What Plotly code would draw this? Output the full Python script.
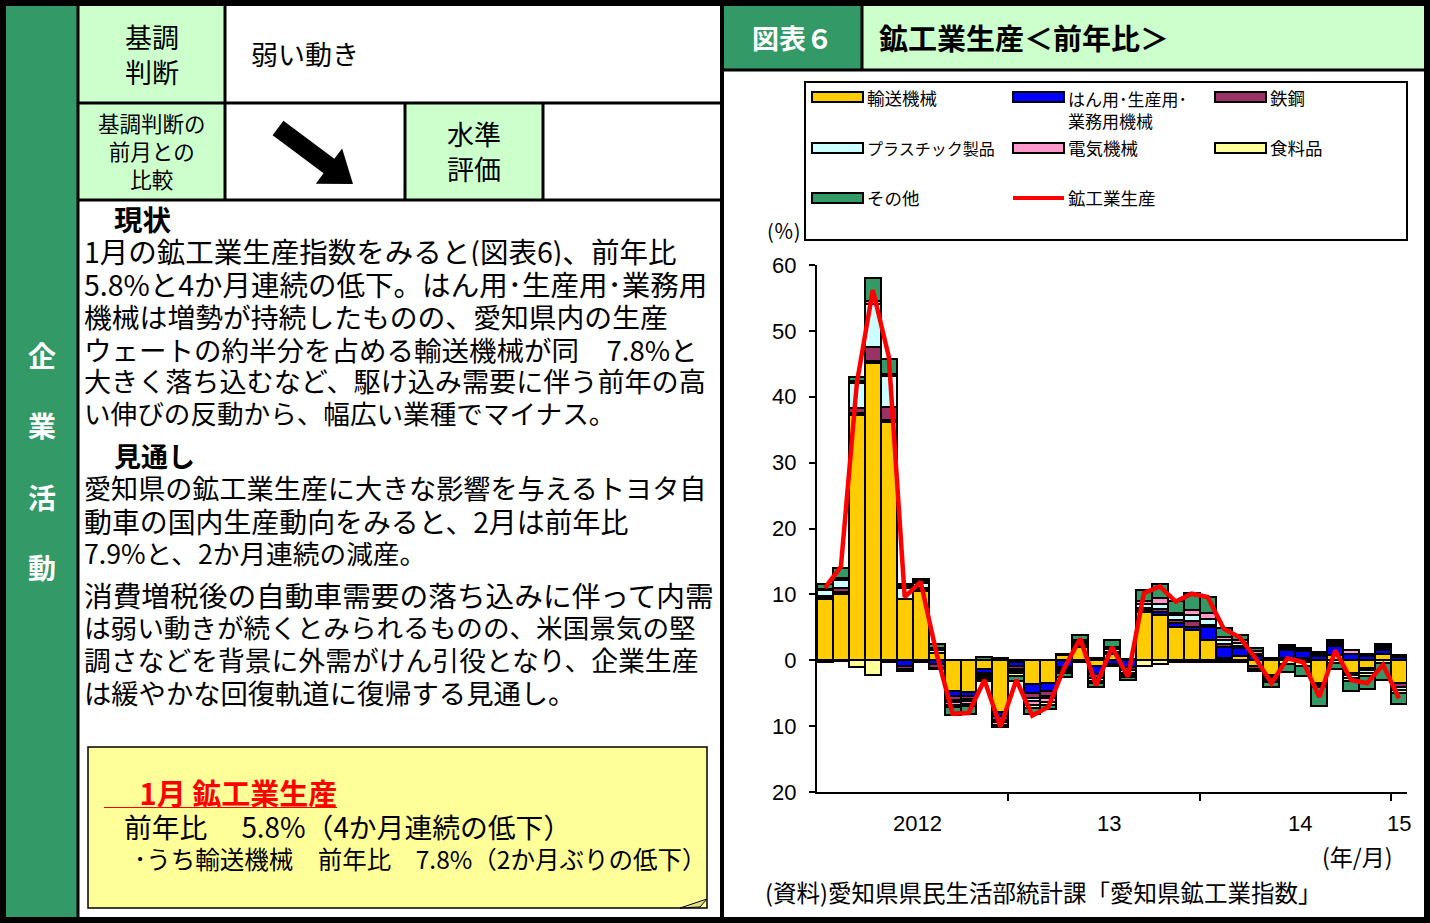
import plotly.graph_objects as go
import math

W, H = 1430, 923
def X(x): return x / W
def Y(y): return 1 - y / H

# ---------------- data ----------------
months = list(range(37))  # 2012/1 .. 2015/1
transport = [9.3, 10.1, 37.2, 45.1, 36.2, 9.3, 10.5, 1.1, -4.6, -4.8, -1.3, -7.9, -0.3, -3.6, -3.4, 0.8,
             2.0, -0.9, 1.0, 0.2, 7.3, 6.8, 5.1, 4.6, 3.0, 0.4, 0.6, -0.9, -2.3, 0.4, 0.3, -3.4, 0.8,
             -2.0, -1.1, 1.0, -3.5]
general_mach = [0.2, 0.3, 0.3, 0.4, 0.3, -0.8, 0.3, -0.6, -0.8, -0.6, -0.6, -0.5, -0.5, -1.3, -1.3, -1.0,
                0.3, -1.2, -0.5, -1.0, 0.4, 0.5, 0.6, 0.5, 2.0, 1.6, 1.2, 0.6, 0.3, 1.1, 1.1, 0.7, 1.4,
                1.0, 0.6, 0.5, 0.5]
steel = [0.3, 0.5, 0.8, 2.0, 2.0, -0.6, 0.2, -0.5, -0.6, -0.5, -0.4, -0.6, -0.5, -0.8, -0.7, -0.3,
         0.2, -0.6, 0.3, -0.5, 0.3, 0.5, 0.4, 0.8, 0.4, 0.4, 0.4, -0.4, -0.3, 0.3, -0.3, -0.3, 0.3,
         -0.3, -0.4, 0.3, -0.5]
plastic = [0.8, 1.3, 3.8, 6.6, 4.7, 1.6, 0.8, 0.5, -0.3, -0.3, -0.3, -0.4, -0.4, -0.5, -0.4, -0.4,
           0.3, -0.4, 0.4, -0.4, 0.5, 0.8, 0.7, 0.9, 0.9, 0.6, 0.4, 0.4, -0.3, 0.3, 0.3, 0.3, 0.3,
           -0.4, -0.4, 0.3, -0.5]
electric = [0.2, 0.3, 0.3, 0.5, 0.3, 0.3, 0.3, 0.3, -0.5, -0.5, -0.3, -0.4, -0.3, -0.6, -0.5, 0.2,
            0.2, 0.3, 0.3, -0.3, 0.5, 0.8, 0.4, 0.8, 0.9, 0.6, 0.4, 0.4, -0.2, 0.2, 0.2, 0.3, 0.3,
            0.5, 0.4, 0.3, 0.3]
food = [-0.2, -0.1, -1.0, -2.2, -0.3, -0.3, -0.2, -0.3, -0.3, -0.3, -0.3, -0.4, -0.4, -0.5, -0.5, -0.3,
        -0.2, -0.4, -0.4, -0.4, -0.8, -0.5, -0.3, -0.3, -0.2, -0.2, -0.2, -0.4, -0.2, -0.5, -0.6, -0.3,
        -0.4, -0.5, -0.5, -0.4, -0.5]
others = [0.8, 1.5, 0.6, 3.5, 2.3, 0.3, 0.3, 0.6, -1.2, -1.2, 0.5, 0.3, -0.8, -0.9, -0.6, -0.5,
          0.8, -0.6, 1.1, -0.4, 1.6, 2.1, 1.8, 2.6, 2.4, 1.3, 0.8, 0.4, -0.7, -1.3, -1.5, -3.0, -0.9,
          -1.5, -2.0, -2.6, -1.6]
total = [11.0, 14.2, 42.1, 56.2, 46.1, 9.6, 11.9, 1.0, -8.1, -8.0, -3.0, -10.1, -3.0, -8.4, -7.1, -1.2,
         3.3, -3.8, 2.0, -2.5, 10.2, 11.2, 8.9, 10.1, 9.6, 4.8, 3.5, 0.3, -3.5, 0.3, -0.3, -5.6, 1.5,
         -3.0, -3.5, -0.7, -5.8]

series_names = ["輸送機械", "はん用･生産用･<br>業務用機械", "鉄鋼", "プラスチック製品", "電気機械", "食料品", "その他"]
series_values = [transport, general_mach, steel, plastic, electric, food, others]
series_colors = ["#FFCC00", "#0000FF", "#993366", "#CCFFFF", "#FF99CC", "#FFFF99", "#339966"]
line_name = "鉱工業生産"

y_tickvals = [-20, -10, 0, 10, 20, 30, 40, 50, 60]
y_ticktext = ["20", "10", "0", "10", "20", "30", "40", "50", "60"]
year_labels = ["2012", "13", "14", "15"]
year_label_pos = [5.8, 17.8, 29.8, 36]
year_bounds = [11.5, 23.5, 35.5]

JP = "Noto Sans CJK JP"
LAT = "Liberation Sans"

fig = go.Figure()
for name, vals, col in zip(series_names, series_values, series_colors):
    fig.add_trace(go.Bar(x=months, y=vals, name=name, marker=dict(color=col, line=dict(color="black", width=2)),
                         showlegend=False))
fig.add_trace(go.Scatter(x=months, y=total, mode="lines", name=line_name,
                         line=dict(color="#FF0000", width=4.5), showlegend=False))

fig.update_layout(
    width=W, height=H, autosize=False, showlegend=False,
    margin=dict(l=0, r=0, t=0, b=0, pad=0, autoexpand=False),
    paper_bgcolor="white", plot_bgcolor="rgba(0,0,0,0)",
    barmode="relative", bargap=0,
    xaxis=dict(domain=[X(817), X(1407)], range=[-0.5, 36.5], showgrid=False, zeroline=False, automargin=False,
               showline=True, linecolor="black", linewidth=2, ticks="outside", ticklen=7,
               tickwidth=2, tickcolor="black", tickvals=year_bounds, showticklabels=False),
    yaxis=dict(domain=[Y(792), Y(265)], range=[-20, 60], showgrid=False, zeroline=False, automargin=False,
               showline=True, linecolor="black", linewidth=2, ticks="outside", ticklen=6,
               tickwidth=2, tickcolor="black", tickvals=y_tickvals, ticktext=y_ticktext,
               ticklabelstandoff=8,
               tickfont=dict(family=LAT, size=22, color="black")),
)

shapes = []
def rect(x0, y0, x1, y1, fill, lw=0, lc="black", layer="below"):
    shapes.append(dict(type="rect", xref="paper", yref="paper", x0=X(x0), x1=X(x1), y0=Y(y1), y1=Y(y0),
                       fillcolor=fill, line=dict(width=lw, color=lc), layer=layer))
def line(x0, y0, x1, y1, w=3, c="black", layer="above"):
    shapes.append(dict(type="line", xref="paper", yref="paper", x0=X(x0), x1=X(x1), y0=Y(y0), y1=Y(y1),
                       line=dict(width=w, color=c), layer=layer))
def poly(pts, fill, lw=0, lc="black", layer="above"):
    p = "M " + " L ".join(f"{X(a):.5f},{Y(b):.5f}" for a, b in pts) + " Z"
    shapes.append(dict(type="path", xref="paper", yref="paper", path=p, fillcolor=fill,
                       line=dict(width=lw, color=lc), layer=layer))

# page backgrounds
rect(0, 0, W, H, "white")
rect(5, 5, 78, 918, "#339966")
rect(78, 5, 225, 103, "#CCFFCC")
rect(78, 103, 225, 200, "#CCFFCC")
rect(405, 103, 543, 200, "#CCFFCC")
rect(722, 5, 862, 70, "#339966")
rect(862, 5, 1425, 70, "#CCFFCC")

# grid lines of the page
line(78, 5, 78, 918)
line(225, 5, 225, 200)
line(78, 103, 722, 103)
line(78, 200, 722, 200)
line(405, 103, 405, 200)
line(543, 103, 543, 200)
line(722, 5, 722, 918, w=4)
line(722, 70, 1425, 70)
line(862, 5, 862, 70)
# outer frame
rect(3, 3, 1427, 920, "rgba(0,0,0,0)", lw=6, layer="above")

# arrow
sx, sy, tx, ty = 278, 128, 353, 184
dx, dy = tx - sx, ty - sy
L = math.hypot(dx, dy)
ux, uy = dx / L, dy / L
nx, ny = -uy, ux
bx, by = tx - 30 * ux, ty - 30 * uy
hw, hh = 9, 22
arrow_pts = [(sx + hw * nx, sy + hw * ny), (bx + hw * nx, by + hw * ny), (bx + hh * nx, by + hh * ny), (tx, ty),
             (bx - hh * nx, by - hh * ny), (bx - hw * nx, by - hw * ny), (sx - hw * nx, sy - hw * ny)]
poly(arrow_pts, "black")

# yellow memo box
rect(88, 747, 707, 908, "#FFFF99", lw=1.5)
poly([(680, 908), (707, 899), (700, 907)], "#E0E080", lw=1)

# legend box
rect(805, 82, 1407, 240, "rgba(0,0,0,0)", lw=2, layer="above")

annotations = []
def text(x, y, s, size, color="black", bold=False, xanchor="left", yanchor="middle", family=JP, align="left",
         height=None):
    if bold:
        s = "<b>" + s + "</b>"
    a = dict(xref="paper", yref="paper", x=X(x), y=Y(y), text=s, showarrow=False,
             xanchor=xanchor, yanchor=yanchor, align=align, borderpad=0,
             font=dict(family=family, size=size, color=color))
    if height:
        a["height"] = height
        a["valign"] = "middle"
    annotations.append(a)

# legend entries
leg_pos = [(812, 97), (1013, 97), (1215, 97), (812, 148), (1013, 148), (1215, 148), (812, 198)]
leg_sizes = [17.5, 17, 17.5, 16, 17.5, 17.5, 17.5]
for (lx, ly), name, col, fs in zip(leg_pos, series_names, series_colors, leg_sizes):
    rect(lx, ly - 5, lx + 51, ly + 5, col, lw=2, layer="above")
    if "<br>" in name:
        text(lx + 54, ly - 12, name, fs, yanchor="top")
    else:
        text(lx + 54, ly, name, fs)
line(1013, 198, 1064, 198, w=4, c="#FF0000")
text(1067, 198, line_name, 17.5)

# chart texts
text(766, 231, "(％)", 20)
for lab, pos in zip(year_labels, year_label_pos):
    annotations.append(dict(xref="x", yref="paper", x=pos, y=Y(823), text=lab, showarrow=False,
                            xanchor="center", yanchor="middle", font=dict(family=LAT, size=22, color="black")))
text(1357, 856, "(年/月)", 23, xanchor="center")
text(764, 892, "(資料)愛知県県民生活部統計課「愛知県鉱工業指数」", 23.5)

# header texts
text(792, 37, "図表６", 27, color="white", bold=True, xanchor="center")
text(878, 37, "鉱工業生産＜前年比＞", 29, bold=True)

# left table texts
text(152, 54, "基調<br>判断", 27, xanchor="center", align="center")
text(250, 53, "弱い動き", 27)
text(152, 151, "基調判断の<br>前月との<br>比較", 21.5, xanchor="center", align="center")
text(474, 151, "水準<br>評価", 27, xanchor="center", align="center")

# vertical title
for ch, yy in zip("企業活動", [355, 425, 497, 567]):
    text(42, yy, ch, 28, color="white", bold=True, xanchor="center")

# body text (text, x, y, size, bold)
body = [
    ("現状", 113, 218, 28.5, True),
    ("1月の鉱工業生産指数をみると(図表6)、前年比", 83, 250, 28.5, False),
    ("5.8%と4か月連続の低下。はん用･生産用･業務用", 83, 283, 28.5, False),
    ("機械は増勢が持続したものの、愛知県内の生産", 83, 315, 27.8, False),
    ("ウェートの約半分を占める輸送機械が同　7.8%と", 83, 348, 27.5, False),
    ("大きく落ち込むなど、駆け込み需要に伴う前年の高", 83, 381, 27.1, False),
    ("い伸びの反動から、幅広い業種でマイナス。", 83, 412, 26.6, False),
    ("見通し", 113, 455, 27, True),
    ("愛知県の鉱工業生産に大きな影響を与えるトヨタ自", 83, 487, 27.1, False),
    ("動車の国内生産動向をみると、2月は前年比", 83, 520, 27.9, False),
    ("7.9%と、2か月連続の減産。", 83, 552, 26.7, False),
    ("消費増税後の自動車需要の落ち込みに伴って内需", 83, 594, 28.7, False),
    ("は弱い動きが続くとみられるものの、米国景気の堅", 83, 626, 26.6, False),
    ("調さなどを背景に外需がけん引役となり、企業生産", 83, 659, 26.8, False),
    ("は緩やかな回復軌道に復帰する見通し。", 83, 691, 27.3, False),
]
for s, xx, yy, sz, b in body:
    text(xx, yy, s, sz, bold=b, height=31)

# memo texts
text(103, 792, "<u>　 1月 鉱工業生産</u>", 29, color="#FF0000", bold=True, height=32)
text(123, 825, "前年比　 5.8%（4か月連続の低下）", 27.8, height=31)
text(133, 858, "･うち輸送機械　前年比　7.8%（2か月ぶりの低下）", 24.5, height=30)

fig.update_layout(shapes=shapes, annotations=annotations)
fig.write_html("out.html", config={"responsive": False})
